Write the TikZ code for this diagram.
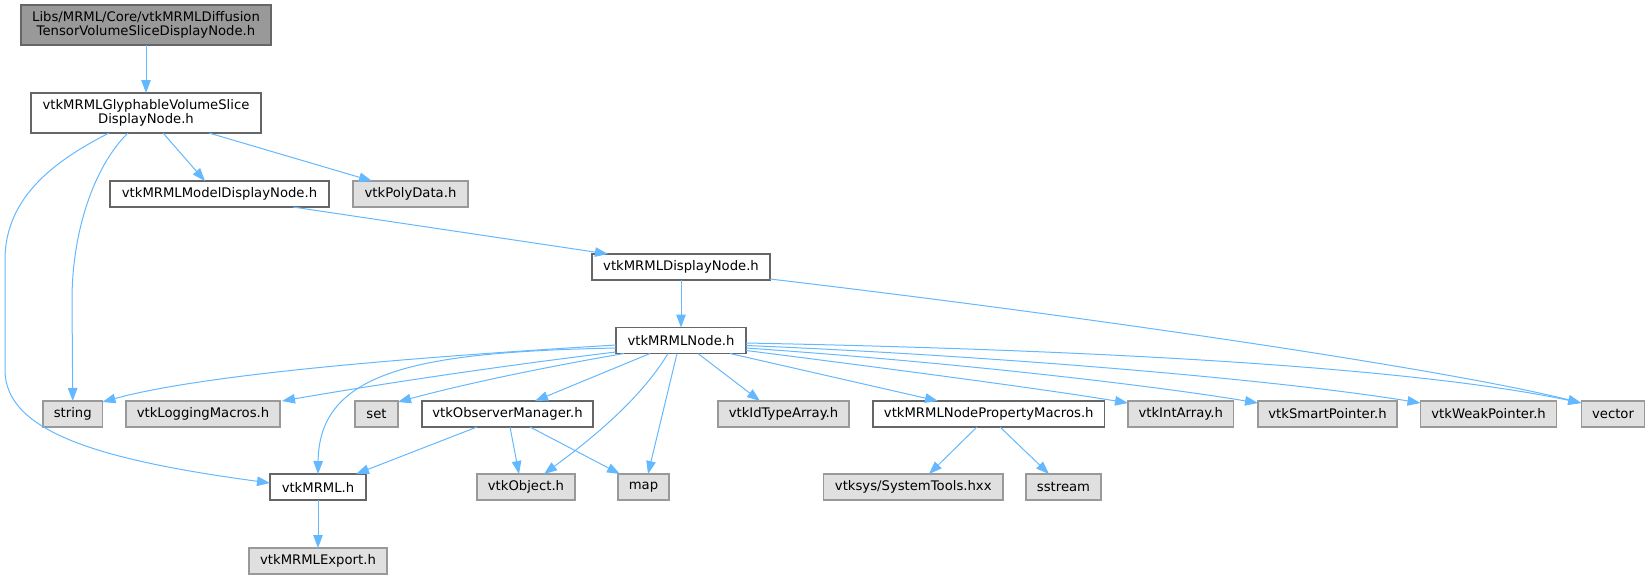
\documentclass[tikz,border=0pt]{standalone}
\usepackage{fontspec}
\setmainfont{DejaVu Sans}
\usetikzlibrary{arrows.meta,calc}
\definecolor{edgec}{HTML}{63B8FF}
\definecolor{wborder}{HTML}{666666}
\definecolor{gborder}{HTML}{999999}
\definecolor{gfill}{HTML}{E0E0E0}
\definecolor{rootfill}{HTML}{999999}
\begin{document}
\begin{tikzpicture}[x=1pt,y=-1pt,
  box/.style={draw, line width=1.1pt, inner sep=0pt, outer sep=0pt,
    font=\fontsize{13.2}{14.7}\selectfont, align=center, anchor=center, minimum height=26pt},
  wbox/.style={box, draw=wborder, fill=white},
  gbox/.style={box, draw=gborder, fill=gfill},
  rbox/.style={box, draw=wborder, fill=rootfill},
  dep/.style={draw=edgec, line width=1pt, -{Triangle[length=13pt,width=9.5pt]}}]
\useasboundingbox (0,0) rectangle (1650,579);
% nodes
\node[rbox, minimum width=250pt, minimum height=40pt] (root) at (146,25) {Libs/MRML/Core/vtkMRMLDiffusion\\TensorVolumeSliceDisplayNode.h};
\node[wbox, minimum width=230pt, minimum height=40pt] (glyph) at (146,113) {vtkMRMLGlyphableVolumeSlice\\DisplayNode.h};
\node[wbox, minimum width=219pt] (model) at (219.5,194) {vtkMRMLModelDisplayNode.h};
\node[gbox, minimum width=115pt] (poly) at (410.5,194) {vtkPolyData.h};
\node[wbox, minimum width=178pt] (disp) at (681,267) {vtkMRMLDisplayNode.h};
\node[wbox, minimum width=130pt] (mnode) at (681,340.5) {vtkMRMLNode.h};
% row 2
\node[gbox, minimum width=59.5pt] (string) at (72.75,414) {string};
\node[gbox, minimum width=154pt] (logging) at (203,414) {vtkLoggingMacros.h};
\node[gbox, minimum width=43pt] (set) at (376.5,414) {set};
\node[wbox, minimum width=171pt] (obs) at (507.5,414) {vtkObserverManager.h};
\node[gbox, minimum width=131pt] (idtype) at (783.5,414) {vtkIdTypeArray.h};
\node[wbox, minimum width=231.5pt] (nprop) at (988.75,414) {vtkMRMLNodePropertyMacros.h};
\node[gbox, minimum width=105.5pt] (intarr) at (1180.75,414) {vtkIntArray.h};
\node[gbox, minimum width=139pt] (smart) at (1327.5,414) {vtkSmartPointer.h};
\node[gbox, minimum width=136.2pt] (weak) at (1488.6,414) {vtkWeakPointer.h};
\node[gbox, minimum width=63.4pt] (vector) at (1613,414) {vector};
% row 3
\node[wbox, minimum width=96pt] (mrml) at (318,487) {vtkMRML.h};
\node[gbox, minimum width=98pt] (object) at (526,487) {vtkObject.h};
\node[gbox, minimum width=51pt] (map) at (643.5,487) {map};
\node[gbox, minimum width=179.5pt] (systools) at (913.25,487) {vtksys/SystemTools.hxx};
\node[gbox, minimum width=75pt] (sstream) at (1063.5,487) {sstream};
% row 4
\node[gbox, minimum width=138pt] (export) at (318,561) {vtkMRMLExport.h};
% edges
\draw[dep] (root.south) -- (glyph.north);
\draw[dep] ($(glyph.south west)+(132,0)$) -- ($(model.north west)+(95,0)$);
\draw[dep] ($(glyph.south west)+(178,0)$) -- ($(poly.north west)+(19,0)$);
\draw[dep] ($(glyph.south west)+(97,0)$) .. controls (95,165) and (72,230) .. (72,300) -- (string.north);
\draw[dep] ($(glyph.south west)+(78,0)$) .. controls (50,163) and (5,200) .. (5,260) -- (5,370) .. controls (5,432) and (100,460) .. ($(mrml.west)+(0,-4)$);
\draw[dep] ($(model.south west)+(183,0)$) -- ($(disp.north west)+(16,0)$);
\draw[dep] (disp.south) -- (mnode.north);
\draw[dep] ($(disp.south east)+(0,-1)$) .. controls (1100,318) and (1450,370) .. ($(vector.north west)+(0,2)$);
% from vtkMRMLNode.h
\draw[dep] ($(mnode.west)+(0,4.5)$) .. controls (400,358) and (200,375) .. ($(string.north east)+(0,1)$);
\draw[dep] ($(mnode.west)+(0,7.5)$) .. controls (420,352) and (319,370) .. (mrml.north);
\draw[dep] ($(mnode.west)+(0,11.5)$) .. controls (500,366) and (380,384) .. ($(logging.north east)+(2,0)$);
\draw[dep] ($(mnode.south west)+(8,0)$) .. controls (540,368) and (460,385) .. ($(set.north east)+(0,1)$);
\draw[dep] ($(mnode.south west)+(34,0)$) -- ($(obs.north west)+(113,0)$);
\draw[dep] ($(mnode.south west)+(52,0)$) .. controls (640,400) and (590,440) .. ($(object.north west)+(67,0)$);
\draw[dep] ($(mnode.south west)+(61,0)$) -- ($(map.north west)+(30,0)$);
\draw[dep] ($(mnode.south west)+(82,0)$) -- ($(idtype.north west)+(42,0)$);
\draw[dep] ($(mnode.south west)+(114,0)$) -- ($(nprop.north west)+(65,0)$);
\draw[dep] ($(mnode.east)+(0,10)$) .. controls (900,370) and (1050,390) .. ($(intarr.north west)+(0,2)$);
\draw[dep] ($(mnode.east)+(0,7.5)$) .. controls (950,362) and (1150,385) .. ($(smart.north west)+(0,2)$);
\draw[dep] ($(mnode.east)+(0,5)$) .. controls (1000,356) and (1280,380) .. ($(weak.north west)+(0,2)$);
\draw[dep] ($(mnode.east)+(0,2.5)$) .. controls (1200,352) and (1450,375) .. ($(vector.north west)+(0,2)$);
% from vtkObserverManager.h
\draw[dep] ($(obs.south west)+(55,0)$) -- ($(mrml.north east)+(-10,0)$);
\draw[dep] ($(obs.south west)+(88,0)$) -- ($(object.north west)+(42,0)$);
\draw[dep] ($(obs.south west)+(108,0)$) -- ($(map.north west)+(2,0)$);
% others
\draw[dep] (mrml.south) -- (export.north);
\draw[dep] ($(nprop.south west)+(104,0)$) -- ($(systools.north west)+(105.5,0)$);
\draw[dep] ($(nprop.south west)+(127,0)$) -- ($(sstream.north west)+(23,0)$);
\end{tikzpicture}
\end{document}
